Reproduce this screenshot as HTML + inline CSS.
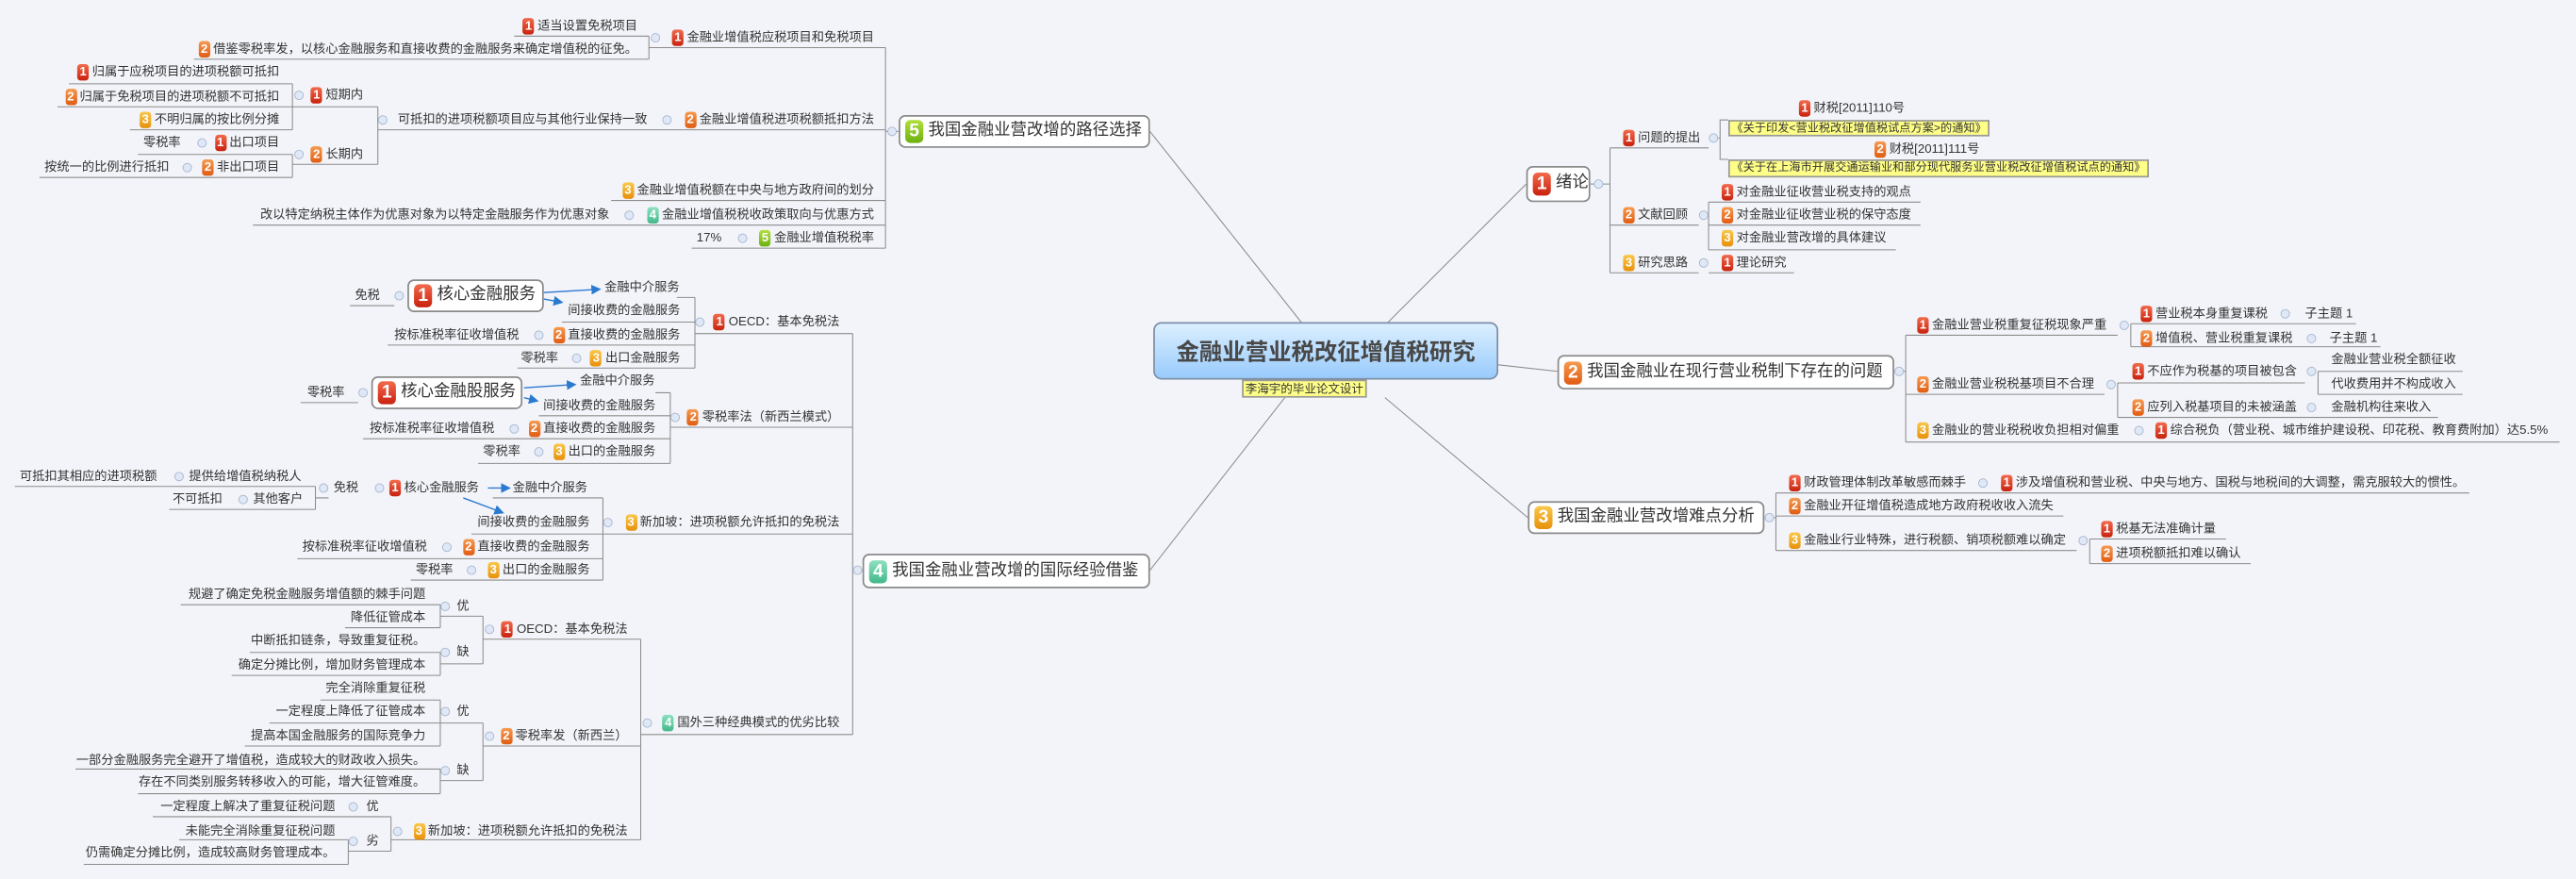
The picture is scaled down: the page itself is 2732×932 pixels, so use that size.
<!DOCTYPE html>
<html><head><meta charset="utf-8">
<style>
html,body{margin:0;padding:0;width:2732px;height:932px;overflow:hidden;background:#f3f4f9;}
#w{position:absolute;left:0;top:0;width:1568px;height:535px;transform:scale(1.74235);transform-origin:0 0;font-family:"Liberation Sans","Noto Sans CJK SC",sans-serif;color:#333;}
.t{position:absolute;font-size:7.6px;line-height:10px;white-space:nowrap;}
.b{display:inline-block;width:7px;height:9.5px;border-radius:2px;color:#fff;font:bold 7.5px/9.5px "Liberation Sans",sans-serif;text-align:center;margin-right:2px;vertical-align:top;margin-top:0.2px;}
.B{display:inline-block;width:11px;height:14px;border-radius:3px;color:#fff;font:bold 11px/14px "Liberation Sans",sans-serif;text-align:center;margin-right:3px;}
.r{background:linear-gradient(#f26a4c,#c8220e);}
.o{background:linear-gradient(#f69a50,#e05c12);}
.y{background:linear-gradient(#f9c84a,#e8900a);}
.g{background:linear-gradient(#b2e03c,#6cb010);}
.c{background:linear-gradient(#8ee0c0,#44b88a);}
.n{position:absolute;background:#fff;border:0.7px solid #8a8a8a;border-radius:4px;font-size:10px;line-height:14px;display:flex;align-items:center;padding-left:3px;box-sizing:border-box;white-space:nowrap;}
.yb{position:absolute;background:#ffff88;border:0.6px solid #999;font-size:7px;line-height:10px;white-space:nowrap;box-sizing:border-box;padding:0 1px;}
svg{position:absolute;left:0;top:0;}
</style></head><body>
<div id="w">
<svg width="1568" height="535" viewBox="0 0 1568 535">
<defs><marker id="ar" markerWidth="6" markerHeight="6" refX="5" refY="3" orient="auto" markerUnits="userSpaceOnUse"><path d="M0,0L6,3L0,6z" fill="#2a7ad0"/></marker></defs>
<g fill="none" stroke="#8c8c8c" stroke-width="0.6">
<path d="M845,196L929,112 M912,222L948,226 M843,242L930,315 M792,196L700,80 M782,242L700,347"/>
<path d="M968,112H980 M980,90V166 M980,90H1040 M980,137H1034 M980,166H1034 M1040,166H1092 M1046,84H1047 M1052,73H1047V97H1052 M1040,123V152 M1040,123H1169 M1040,137H1169 M1040,152H1154"/>
<path d="M1153,226H1160 M1160,204V269 M1160,204H1289 M1160,240H1281 M1160,269H1558 M1297,197V211 M1297,197H1434 M1297,211H1449 M1289,233V254 M1289,233H1403 M1289,254H1484 M1411,226V240 M1411,226H1499 M1411,240H1499"/>
<path d="M1074,315H1081 M1081,300V335 M1081,300H1503 M1081,314H1256 M1081,335H1264 M1272,328V343 M1272,328H1355 M1272,343H1370"/>
<path d="M547,80H539 M539,29V151 M395,29H539 M230,79H539 M372,122H539 M154,137H539 M421,151H539 M395,22V36 M313,22H395 M118,36H395 M230,65V100 M178,65H230 M178,100H230 M178,51V79 M42,51H178 M35,65H178 M79,79H178 M178,94V108 M84,94H178 M24,108H178"/>
<path d="M525,347H519 M519,203V447 M423,203H519 M408,260H519 M367,325H519 M390,447H519 M423,181V224 M412,181H423 M342,196H423 M236,210H423 M315,224H423 M213,186H240 M408,239V282 M399,239H408 M328,253H408 M221,267H408 M291,282H408 M183,245H218 M367,303V353 M300,303H367 M287,325H367 M181,340H367 M250,353H367 M192,296V310 M9,296H192 M103,310H192 M192,303H200"/>
<path d="M390,389V511 M294,389H390 M294,454H390 M238,511H390 M294,375V404 M268,375H294 M268,404H294 M268,368V382 M110,368H268 M210,382H268 M268,397V411 M152,397H268 M141,411H268 M294,440V475 M268,440H294 M268,475H294 M268,426V454 M195,426H268 M164,440H268 M149,454H268 M268,468V483 M46,468H268 M84,483H268 M238,497V518 M93,497H238 M212,518H238 M212,511V526 M109,511H212 M51,526H212"/>
</g>
<g stroke="#2a7ad0" stroke-width="0.8" fill="none" marker-end="url(#ar)">
<path d="M331,178L365,176"/><path d="M331,182L342,184"/><path d="M319,236L350,234"/><path d="M319,242L327,244"/><path d="M297,297L310,297"/><path d="M282,303L306,312"/>
</g>
<g fill="#dfe8f6" stroke="#a4b4cc" stroke-width="0.5">
<circle cx="973" cy="112" r="2.6"/><circle cx="1043" cy="84" r="2.6"/><circle cx="1037" cy="131" r="2.6"/><circle cx="1037" cy="160" r="2.6"/><circle cx="1156" cy="226" r="2.6"/><circle cx="1293" cy="198" r="2.6"/><circle cx="1391" cy="191" r="2.6"/><circle cx="1407" cy="206" r="2.6"/><circle cx="1285" cy="234" r="2.6"/><circle cx="1407" cy="226" r="2.6"/><circle cx="1407" cy="248" r="2.6"/><circle cx="1302" cy="262" r="2.6"/><circle cx="1077" cy="315" r="2.6"/><circle cx="1207" cy="294" r="2.6"/><circle cx="1268" cy="329" r="2.6"/>
<circle cx="543" cy="80" r="2.6"/><circle cx="399" cy="23" r="2.6"/><circle cx="406" cy="73" r="2.6"/><circle cx="233" cy="73" r="2.6"/><circle cx="182" cy="58" r="2.6"/><circle cx="182" cy="94" r="2.6"/><circle cx="123" cy="87" r="2.6"/><circle cx="114" cy="102" r="2.6"/><circle cx="383" cy="131" r="2.6"/><circle cx="452" cy="145" r="2.6"/><circle cx="522" cy="347" r="2.6"/><circle cx="426" cy="196" r="2.6"/><circle cx="243" cy="180" r="2.6"/><circle cx="328" cy="204" r="2.6"/><circle cx="351" cy="218" r="2.6"/><circle cx="411" cy="254" r="2.6"/><circle cx="221" cy="239" r="2.6"/><circle cx="313" cy="261" r="2.6"/><circle cx="328" cy="275" r="2.6"/><circle cx="370" cy="318" r="2.6"/><circle cx="109" cy="290" r="2.6"/><circle cx="148" cy="304" r="2.6"/><circle cx="197" cy="297" r="2.6"/><circle cx="231" cy="297" r="2.6"/><circle cx="272" cy="333" r="2.6"/><circle cx="287" cy="347" r="2.6"/><circle cx="394" cy="440" r="2.6"/><circle cx="298" cy="383" r="2.6"/><circle cx="271" cy="369" r="2.6"/><circle cx="271" cy="397" r="2.6"/><circle cx="298" cy="448" r="2.6"/><circle cx="271" cy="433" r="2.6"/><circle cx="271" cy="469" r="2.6"/><circle cx="242" cy="506" r="2.6"/><circle cx="215" cy="491" r="2.6"/><circle cx="215" cy="512" r="2.6"/>
</g>
</svg>

<!-- central -->
<div style="position:absolute;left:702px;top:196px;width:210px;height:35px;border:0.7px solid #7a8ea8;border-radius:5px;box-sizing:border-box;background:linear-gradient(#dcefff,#98cbfc);font-weight:bold;font-size:14px;color:#484848;display:flex;align-items:center;justify-content:center;">金融业营业税改征增值税研究</div>
<div class="yb" style="left:756px;top:231px;height:11px;font-size:7.2px;">李海宇的毕业论文设计</div>

<!-- right main nodes -->
<div class="n" style="left:929px;top:101px;width:39px;height:22px;"><span class="B r">1</span>绪论</div>
<div class="n" style="left:948px;top:216px;width:205px;height:21px;"><span class="B o">2</span>我国金融业在现行营业税制下存在的问题</div>
<div class="n" style="left:930px;top:305px;width:144px;height:20px;"><span class="B y">3</span>我国金融业营改增难点分析</div>
<div class="n" style="left:547px;top:70px;width:153px;height:20px;"><span class="B g">5</span>我国金融业营改增的路径选择</div>
<div class="n" style="left:525px;top:337px;width:175px;height:21px;"><span class="B c">4</span>我国金融业营改增的国际经验借鉴</div>

<!-- 绪论 -->
<div class="t" style="left:988px;top:79px;"><span class="b r">1</span>问题的提出</div>
<div class="t" style="left:1095px;top:61px;"><span class="b r">1</span>财税[2011]110号</div>
<div class="yb" style="left:1052px;top:73px;height:10px;">《关于印发&lt;营业税改征增值税试点方案&gt;的通知》</div>
<div class="t" style="left:1141px;top:86px;"><span class="b o">2</span>财税[2011]111号</div>
<div class="yb" style="left:1052px;top:97px;height:11px;">《关于在上海市开展交通运输业和部分现代服务业营业税改征增值税试点的通知》</div>
<div class="t" style="left:988px;top:126px;"><span class="b o">2</span>文献回顾</div>
<div class="t" style="left:1048px;top:112px;"><span class="b r">1</span>对金融业征收营业税支持的观点</div>
<div class="t" style="left:1048px;top:126px;"><span class="b o">2</span>对金融业征收营业税的保守态度</div>
<div class="t" style="left:1048px;top:140px;"><span class="b y">3</span>对金融业营改增的具体建议</div>
<div class="t" style="left:988px;top:155px;"><span class="b y">3</span>研究思路</div>
<div class="t" style="left:1048px;top:155px;"><span class="b r">1</span>理论研究</div>

<!-- node 2 -->
<div class="t" style="left:1167px;top:193px;"><span class="b r">1</span>金融业营业税重复征税现象严重</div>
<div class="t" style="left:1303px;top:186px;"><span class="b r">1</span>营业税本身重复课税</div>
<div class="t" style="left:1403px;top:186px;">子主题 1</div>
<div class="t" style="left:1303px;top:201px;"><span class="b o">2</span>增值税、营业税重复课税</div>
<div class="t" style="left:1418px;top:201px;">子主题 1</div>
<div class="t" style="left:1167px;top:229px;"><span class="b o">2</span>金融业营业税税基项目不合理</div>
<div class="t" style="left:1298px;top:221px;"><span class="b r">1</span>不应作为税基的项目被包含</div>
<div class="t" style="left:1419px;top:214px;">金融业营业税全额征收</div>
<div class="t" style="left:1419px;top:229px;">代收费用并不构成收入</div>
<div class="t" style="left:1298px;top:243px;"><span class="b o">2</span>应列入税基项目的未被涵盖</div>
<div class="t" style="left:1419px;top:243px;">金融机构往来收入</div>
<div class="t" style="left:1167px;top:257px;"><span class="b y">3</span>金融业的营业税税收负担相对偏重</div>
<div class="t" style="left:1312px;top:257px;"><span class="b r">1</span>综合税负（营业税、城市维护建设税、印花税、教育费附加）达5.5%</div>

<!-- node 3 -->
<div class="t" style="left:1089px;top:289px;"><span class="b r">1</span>财政管理体制改革敏感而棘手</div>
<div class="t" style="left:1218px;top:289px;"><span class="b r">1</span>涉及增值税和营业税、中央与地方、国税与地税间的大调整，需克服较大的惯性。</div>
<div class="t" style="left:1089px;top:303px;"><span class="b o">2</span>金融业开征增值税造成地方政府税收收入流失</div>
<div class="t" style="left:1089px;top:324px;"><span class="b y">3</span>金融业行业特殊，进行税额、销项税额难以确定</div>
<div class="t" style="left:1279px;top:317px;"><span class="b r">1</span>税基无法准确计量</div>
<div class="t" style="left:1279px;top:332px;"><span class="b o">2</span>进项税额抵扣难以确认</div>

<!-- node 5 -->
<div class="t" style="right:1036px;top:18px;"><span class="b r">1</span>金融业增值税应税项目和免税项目</div>
<div class="t" style="right:1180px;top:11px;"><span class="b r">1</span>适当设置免税项目</div>
<div class="t" style="right:1180px;top:25px;"><span class="b o">2</span>借鉴零税率发，以核心金融服务和直接收费的金融服务来确定增值税的征免。</div>
<div class="t" style="right:1036px;top:68px;"><span class="b o">2</span>金融业增值税进项税额抵扣方法</div>
<div class="t" style="right:1174px;top:68px;">可抵扣的进项税额项目应与其他行业保持一致</div>
<div class="t" style="right:1347px;top:53px;"><span class="b r">1</span>短期内</div>
<div class="t" style="right:1347px;top:89px;"><span class="b o">2</span>长期内</div>
<div class="t" style="right:1398px;top:39px;"><span class="b r">1</span>归属于应税项目的进项税额可抵扣</div>
<div class="t" style="right:1398px;top:54px;"><span class="b o">2</span>归属于免税项目的进项税额不可抵扣</div>
<div class="t" style="right:1398px;top:68px;"><span class="b y">3</span>不明归属的按比例分摊</div>
<div class="t" style="right:1398px;top:82px;"><span class="b r">1</span>出口项目</div>
<div class="t" style="right:1458px;top:82px;">零税率</div>
<div class="t" style="right:1398px;top:97px;"><span class="b o">2</span>非出口项目</div>
<div class="t" style="right:1465px;top:97px;">按统一的比例进行抵扣</div>
<div class="t" style="right:1036px;top:111px;"><span class="b y">3</span>金融业增值税额在中央与地方政府间的划分</div>
<div class="t" style="right:1036px;top:126px;"><span class="b c">4</span>金融业增值税税收政策取向与优惠方式</div>
<div class="t" style="right:1197px;top:126px;">改以特定纳税主体作为优惠对象为以特定金融服务作为优惠对象</div>
<div class="t" style="right:1036px;top:140px;"><span class="b g">5</span>金融业增值税税率</div>
<div class="t" style="left:424px;top:140px;">17%</div>

<!-- node 4 : OECD -->
<div class="t" style="right:1057px;top:191px;"><span class="b r">1</span>OECD：基本免税法</div>
<div class="n" style="left:248px;top:170px;width:83px;height:20px;"><span class="B r">1</span>核心金融服务</div>
<div class="t" style="left:216px;top:175px;">免税</div>
<div class="t" style="left:368px;top:170px;">金融中介服务</div>
<div class="t" style="right:1154px;top:184px;">间接收费的金融服务</div>
<div class="t" style="left:240px;top:199px;">按标准税率征收增值税</div>
<div class="t" style="right:1154px;top:199px;"><span class="b o">2</span>直接收费的金融服务</div>
<div class="t" style="left:317px;top:213px;">零税率</div>
<div class="t" style="right:1154px;top:213px;"><span class="b y">3</span>出口金融服务</div>

<!-- 零税率法 -->
<div class="t" style="right:1057px;top:249px;"><span class="b o">2</span>零税率法（新西兰模式）</div>
<div class="n" style="left:226px;top:229px;width:92px;height:20px;"><span class="B r">1</span>核心金融股服务</div>
<div class="t" style="left:187px;top:234px;">零税率</div>
<div class="t" style="left:353px;top:227px;">金融中介服务</div>
<div class="t" style="right:1169px;top:242px;">间接收费的金融服务</div>
<div class="t" style="left:225px;top:256px;">按标准税率征收增值税</div>
<div class="t" style="right:1169px;top:256px;"><span class="b o">2</span>直接收费的金融服务</div>
<div class="t" style="left:294px;top:270px;">零税率</div>
<div class="t" style="right:1169px;top:270px;"><span class="b y">3</span>出口的金融服务</div>

<!-- 新加坡 -->
<div class="t" style="right:1057px;top:313px;"><span class="b y">3</span>新加坡：进项税额允许抵扣的免税法</div>
<div class="t" style="left:12px;top:285px;">可抵扣其相应的进项税额</div>
<div class="t" style="left:115px;top:285px;">提供给增值税纳税人</div>
<div class="t" style="left:105px;top:299px;">不可抵扣</div>
<div class="t" style="left:154px;top:299px;">其他客户</div>
<div class="t" style="left:203px;top:292px;">免税</div>
<div class="t" style="left:237px;top:292px;"><span class="b r">1</span>核心金融服务</div>
<div class="t" style="left:312px;top:292px;">金融中介服务</div>
<div class="t" style="right:1209px;top:313px;">间接收费的金融服务</div>
<div class="t" style="left:184px;top:328px;">按标准税率征收增值税</div>
<div class="t" style="right:1209px;top:328px;"><span class="b o">2</span>直接收费的金融服务</div>
<div class="t" style="left:253px;top:342px;">零税率</div>
<div class="t" style="right:1209px;top:342px;"><span class="b y">3</span>出口的金融服务</div>

<!-- 比较 -->
<div class="t" style="right:1057px;top:435px;"><span class="b c">4</span>国外三种经典模式的优劣比较</div>
<div class="t" style="right:1186px;top:378px;"><span class="b r">1</span>OECD：基本免税法</div>
<div class="t" style="left:278px;top:364px;">优</div>
<div class="t" style="left:278px;top:392px;">缺</div>
<div class="t" style="right:1309px;top:357px;">规避了确定免税金融服务增值额的棘手问题</div>
<div class="t" style="right:1309px;top:371px;">降低征管成本</div>
<div class="t" style="right:1309px;top:385px;">中断抵扣链条，导致重复征税。</div>
<div class="t" style="right:1309px;top:400px;">确定分摊比例，增加财务管理成本</div>
<div class="t" style="right:1186px;top:443px;"><span class="b o">2</span>零税率发（新西兰）</div>
<div class="t" style="left:278px;top:428px;">优</div>
<div class="t" style="left:278px;top:464px;">缺</div>
<div class="t" style="right:1309px;top:414px;">完全消除重复征税</div>
<div class="t" style="right:1309px;top:428px;">一定程度上降低了征管成本</div>
<div class="t" style="right:1309px;top:443px;">提高本国金融服务的国际竞争力</div>
<div class="t" style="right:1309px;top:458px;">一部分金融服务完全避开了增值税，造成较大的财政收入损失。</div>
<div class="t" style="right:1309px;top:471px;">存在不同类别服务转移收入的可能，增大征管难度。</div>
<div class="t" style="right:1186px;top:501px;"><span class="b y">3</span>新加坡：进项税额允许抵扣的免税法</div>
<div class="t" style="right:1364px;top:486px;">一定程度上解决了重复征税问题</div>
<div class="t" style="left:223px;top:486px;">优</div>
<div class="t" style="left:223px;top:507px;">劣</div>
<div class="t" style="right:1364px;top:501px;">未能完全消除重复征税问题</div>
<div class="t" style="right:1364px;top:514px;">仍需确定分摊比例，造成较高财务管理成本。</div>
</div>
</body></html>
